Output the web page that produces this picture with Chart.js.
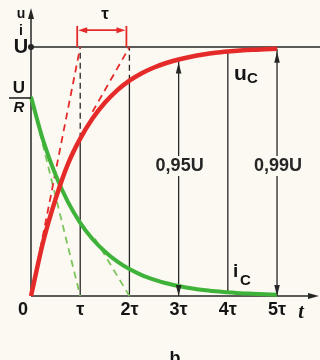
<!DOCTYPE html>
<html>
<head>
<meta charset="utf-8">
<script src="https://cdn.jsdelivr.net/npm/chart.js@4/dist/chart.umd.min.js"></script>
<style>
html,body{margin:0;padding:0;background:#fbf9f1;}
canvas{display:block;}
</style>
</head>
<body>
<canvas id="chart" width="320" height="360"></canvas>
<script>
// time in units of tau
var tauSteps = [0,0.25,0.5,0.75,1,1.25,1.5,1.75,2,2.25,2.5,2.75,3,3.25,3.5,3.75,4,4.25,4.5,4.75,5];
// capacitor voltage (fraction of U)
var uC = [0,0.22,0.39,0.53,0.632,0.713,0.776,0.826,0.865,0.895,0.918,0.936,0.95,0.961,0.97,0.977,0.982,0.986,0.989,0.991,0.993];
// charging current (U/R sits at 0.8 on the same axis)
var iC = [0.80,0.623,0.486,0.378,0.294,0.229,0.179,0.139,0.108,0.084,0.066,0.051,0.04,0.031,0.024,0.019,0.015,0.011,0.009,0.007,0.005];
var tickT = [0,1,2,3,4,5];
var tickLabels = ['0','τ','2τ','3τ','4τ','5τ'];
var levelT = [3,5];
var levelLabels = ['0,95U','0,99U'];
// tangent segments [t1, v1, t2, v2]
var tangentsU = [[0,0,1,1],[1.25,0.74,2,1]];
var tangentsI = [[0,0.8,1,0],[1.3,0.23,2,0]];

var RED = '#e52a2a', GREEN = '#3fb23a', GREEN_D = '#7cc45c', INK = '#262626', BG = '#fbf9f1';
var FONT = '"Liberation Sans", Arial, sans-serif';

function valueAt(arr, t) { return arr[tauSteps.indexOf(t)]; }
function pts(xs, ys) { return xs.map(function (x, i) { return {x: x, y: ys[i]}; }); }
function seg(t1, v1, t2, v2) { return [{x: t1, y: v1}, {x: t2, y: v2}]; }

var datasets = [];
datasets.push({data: pts(tauSteps, uC), borderColor: RED, borderWidth: 4.5, order: 0, cubicInterpolationMode: 'monotone'});
datasets.push({data: pts(tauSteps, iC), borderColor: GREEN, borderWidth: 4, order: 1, cubicInterpolationMode: 'monotone'});
tangentsU.forEach(function (s) {
	datasets.push({data: seg(s[0], s[1], s[2], s[3]), borderColor: RED, borderWidth: 1.8, borderDash: [7, 5], order: 2});
});
tangentsI.forEach(function (s) {
	datasets.push({data: seg(s[0], s[1], s[2], s[3]), borderColor: GREEN_D, borderWidth: 1.8, borderDash: [7, 5], order: 3});
});
// tau, 2tau: solid under the curve, dashed above it
[1, 2].forEach(function (t) {
	var v = valueAt(uC, t);
	datasets.push({data: seg(t, 0, t, v), borderColor: INK, borderWidth: 1.3, order: 5});
	datasets.push({data: seg(t, v, t, 1), borderColor: INK, borderWidth: 1.3, borderDash: [6, 4], order: 5});
});
// 4tau between the curves
datasets.push({data: seg(4, valueAt(iC, 4), 4, valueAt(uC, 4)), borderColor: INK, borderWidth: 1.3, order: 5});
// level arrows
levelT.forEach(function (t) {
	datasets.push({data: seg(t, 0, t, valueAt(uC, t)), borderColor: INK, borderWidth: 1.3, order: 5});
});
datasets.forEach(function (d) { d.showLine = true; d.pointRadius = 0; d.fill = false; d.clip = false; });

function line(ctx, x1, y1, x2, y2) {
	ctx.beginPath(); ctx.moveTo(x1, y1); ctx.lineTo(x2, y2); ctx.stroke();
}
function arrowHead(ctx, x, y, dx, dy, len, half) {
	// tip at x,y pointing along dx,dy
	ctx.beginPath();
	ctx.moveTo(x, y);
	ctx.lineTo(x - dx * len - dy * half, y - dy * len - dx * half);
	ctx.lineTo(x - dx * len + dy * half, y - dy * len + dx * half);
	ctx.closePath();
	ctx.fill();
}
function text(ctx, s, x, y, font, align) {
	ctx.font = font;
	ctx.textAlign = align || 'center';
	ctx.fillText(s, x, y);
}

var sketch = {
	id: 'sketch',
	beforeDatasetsDraw: function (chart) {
		var ctx = chart.ctx, sx = chart.scales.x, sy = chart.scales.y;
		var x0 = sx.getPixelForValue(0), y0 = sy.getPixelForValue(0), yU = sy.getPixelForValue(1);
		ctx.save();
		ctx.strokeStyle = INK; ctx.fillStyle = INK; ctx.lineWidth = 1.5;
		line(ctx, x0, y0, x0, 14);
		arrowHead(ctx, x0, 8, 0, -1, 11, 3);
		line(ctx, x0, y0, 312, y0);
		arrowHead(ctx, 319, y0, 1, 0, 11, 3);
		line(ctx, x0, yU, 320, yU);
		ctx.restore();
	},
	afterDatasetsDraw: function (chart) {
		var ctx = chart.ctx, sx = chart.scales.x, sy = chart.scales.y;
		var x0 = sx.getPixelForValue(0), y0 = sy.getPixelForValue(0), yU = sy.getPixelForValue(1);
		ctx.save();
		ctx.fillStyle = INK; ctx.strokeStyle = INK;
		ctx.beginPath(); ctx.arc(x0, yU, 3, 0, Math.PI * 2); ctx.fill();

		// level arrows + labels
		levelT.forEach(function (t, i) {
			var px = sx.getPixelForValue(t), top = sy.getPixelForValue(valueAt(uC, t)) + 3;
			arrowHead(ctx, px, top, 0, -1, 11, 2.8);
			arrowHead(ctx, px, y0, 0, 1, 11, 2.8);
			ctx.font = 'bold 18px ' + FONT;
			var w = ctx.measureText(levelLabels[i]).width;
			ctx.fillStyle = BG;
			ctx.fillRect(px - w / 2 - 2, 156, w + 4, 20);
			ctx.fillStyle = INK;
			ctx.textBaseline = 'middle';
			text(ctx, levelLabels[i], px + 1, 166, 'bold 18px ' + FONT);
		});

		// tau bracket
		var b1 = sx.getPixelForValue(1) - 3, b2 = sx.getPixelForValue(2) - 3;
		var yb = sy.getPixelForValue(1.068), yt = sy.getPixelForValue(1.085);
		ctx.strokeStyle = RED; ctx.fillStyle = RED; ctx.lineWidth = 1.8;
		line(ctx, b1, yU, b1, yt);
		line(ctx, b2, yU, b2, yt);
		line(ctx, b1 + 6, yb, b2 - 6, yb);
		arrowHead(ctx, b1 + 1, yb, -1, 0, 9, 3);
		arrowHead(ctx, b2 - 1, yb, 1, 0, 9, 3);

		// tick labels
		ctx.fillStyle = '#141414';
		ctx.textBaseline = 'middle';
		tickT.forEach(function (t, i) {
			var px = sx.getPixelForValue(t);
			if (t === 0) px -= 8;
			text(ctx, tickLabels[i], px, 310, 'bold 18px ' + FONT);
		});
		text(ctx, 't', 301, 313, 'italic bold 20px "Liberation Serif", serif');
		text(ctx, 'τ', 105, 14, 'bold 17px ' + FONT);

		// axis names
		text(ctx, 'u', 21, 14, 'bold 14px ' + FONT);
		text(ctx, 'i', 21, 31, 'bold 14px ' + FONT);
		text(ctx, 'U', 21, 47, 'bold 20px ' + FONT);
		text(ctx, 'U', 19, 88, 'bold 17px ' + FONT);
		text(ctx, 'R', 19, 108, 'italic bold 15px ' + FONT);
		ctx.strokeStyle = INK; ctx.lineWidth = 1.6;
		line(ctx, 9, 98, x0, 98);

		// curve names
		ctx.textBaseline = 'alphabetic';
		text(ctx, 'u', 234, 80, 'bold 21px ' + FONT, 'left');
		text(ctx, 'C', 247, 83, 'bold 15px ' + FONT, 'left');
		text(ctx, 'i', 233, 277, 'bold 19px ' + FONT, 'left');
		text(ctx, 'C', 240, 285, 'bold 15px ' + FONT, 'left');
		text(ctx, 'b', 175, 364, 'bold 18px ' + FONT);
		ctx.restore();
	}
};

new Chart(document.getElementById('chart'), {
	type: 'scatter',
	data: {datasets: datasets},
	options: {
		responsive: false,
		animation: false,
		events: [],
		layout: {padding: {left: 31, right: 10, top: 8, bottom: 64}},
		scales: {
			x: {type: 'linear', min: 0, max: 5.67, display: false},
			y: {type: 'linear', min: 0, max: 1.157, display: false}
		},
		plugins: {legend: {display: false}, tooltip: {enabled: false}}
	},
	plugins: [sketch]
});
</script>
</body>
</html>
